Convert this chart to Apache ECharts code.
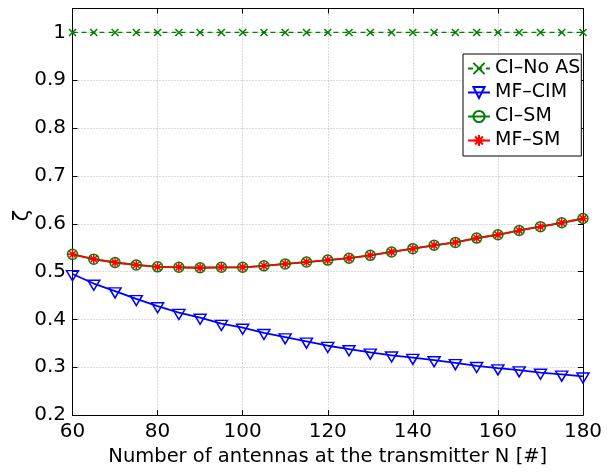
<!DOCTYPE html>
<html>
<head>
<meta charset="utf-8">
<script src="https://cdn.jsdelivr.net/npm/echarts@6/dist/echarts.min.js"></script>
<style>
html,body{margin:0;padding:0;background:#fff;}
#chart{width:609px;height:472px;}
</style>
</head>
<body>
<div id="chart"></div>
<script>
// ---- data ----
const antennas = [60,65,70,75,80,85,90,95,100,105,110,115,120,125,130,135,140,145,150,155,160,165,170,175,180];
const ciNoAS = [1,1,1,1,1,1,1,1,1,1,1,1,1,1,1,1,1,1,1,1,1,1,1,1,1];
const mfCIM = [0.495,0.475,0.459,0.443,0.428,0.414,0.404,0.391,0.383,0.372,0.363,0.354,0.345,0.338,0.331,0.325,0.320,0.315,0.309,0.303,0.298,0.294,0.289,0.285,0.281];
const ciSM = [0.536,0.526,0.519,0.514,0.510,0.509,0.508,0.509,0.509,0.512,0.516,0.520,0.524,0.528,0.534,0.541,0.548,0.555,0.561,0.570,0.577,0.586,0.594,0.602,0.611];
const mfSM = [0.536,0.526,0.519,0.514,0.510,0.509,0.508,0.509,0.509,0.512,0.516,0.520,0.524,0.528,0.534,0.541,0.548,0.555,0.561,0.570,0.577,0.586,0.594,0.602,0.611];
const seriesNames = ['CI\u2013No AS','MF\u2013CIM','CI\u2013SM','MF\u2013SM'];
const xTitle = 'Number of antennas at the transmitter N [#]';
const yTitle = '\u03b6';

const pairs = ys => antennas.map((x,i)=>[x, ys[i]]);
const GREEN = '#008000', BLUE = '#0000ff', RED = '#ff0000';
const FONT = 'DejaVu Sans';

const chart = echarts.init(document.getElementById('chart'), null, {renderer:'canvas'});
const gridLine = {show:true, lineStyle:{color:'#b4b4b4', type:[1,2], width:1}};
const option = {
  animation:false,
  backgroundColor:'#fff',
  grid:{left:72.5, right:26, top:8.5, bottom:49.3, containLabel:false},
  graphic:[{
    type:'text', x:22.5, y:215.6, rotation:Math.PI/2,
    style:{text:yTitle, font:'21px "DejaVu Sans"', fill:'#000', align:'center', verticalAlign:'middle'}
  }],
  xAxis:[{
    type:'value', min:60, max:180, interval:20, position:'bottom',
    name:xTitle, nameLocation:'middle', nameGap:27,
    nameTextStyle:{fontFamily:FONT, fontSize:19.5, color:'#000'},
    axisLine:{show:true, onZero:false, lineStyle:{color:'#000', width:1}},
    axisTick:{show:true, inside:true, length:5, lineStyle:{color:'#000'}},
    axisLabel:{fontFamily:FONT, fontSize:20, color:'#000', margin:7},
    splitLine:gridLine
  },{
    type:'value', min:60, max:180, interval:20, position:'top',
    axisLine:{show:true, onZero:false, lineStyle:{color:'#000', width:1}},
    axisTick:{show:true, inside:true, length:5, lineStyle:{color:'#000'}},
    axisLabel:{show:false}, splitLine:{show:false}
  }],
  yAxis:[{
    type:'value', min:0.2, max:1.05, interval:0.1, position:'left',
    axisLine:{show:true, onZero:false, lineStyle:{color:'#000', width:1}},
    axisTick:{show:true, inside:true, length:5, lineStyle:{color:'#000'}},
    axisLabel:{fontFamily:FONT, fontSize:20, color:'#000', margin:6.5, showMaxLabel:false},
    splitLine:gridLine
  },{
    type:'value', min:0.2, max:1.05, interval:0.1, position:'right',
    axisLine:{show:true, onZero:false, lineStyle:{color:'#000', width:1}},
    axisTick:{show:true, inside:true, length:5, lineStyle:{color:'#000'}},
    axisLabel:{show:false}, splitLine:{show:false}
  }],
  legend:{
    orient:'vertical', left:463, top:54,
    padding:[5,1,6,4], itemGap:5, itemWidth:22, itemHeight:14,
    backgroundColor:'#fff', borderColor:'#000', borderWidth:1,
    textStyle:{fontFamily:FONT, fontSize:19, color:'#000'},
    data:seriesNames
  },
  series:[
    {
      name:seriesNames[0], type:'line', data:pairs(ciNoAS),
      symbol:'path://M0,0L10,10M10,0L0,10', symbolSize:7,
      itemStyle:{color:'transparent', borderColor:GREEN, borderWidth:1.5},
      lineStyle:{color:GREEN, width:1.3, type:[5,4]},
      emphasis:{disabled:true}
    },
    {
      name:seriesNames[1], type:'line', data:pairs(mfCIM),
      symbol:'triangle', symbolRotate:180, symbolSize:[12,10], symbolOffset:[0,1.7],
      itemStyle:{color:'transparent', borderColor:BLUE, borderWidth:1.5},
      lineStyle:{color:BLUE, width:1.8},
      emphasis:{disabled:true}
    },
    {
      name:seriesNames[2], type:'line', data:pairs(ciSM),
      symbol:'circle', symbolSize:10,
      itemStyle:{color:'transparent', borderColor:GREEN, borderWidth:1.5},
      lineStyle:{color:GREEN, width:1.8},
      emphasis:{disabled:true}
    },
    {
      name:seriesNames[3], type:'line', data:pairs(mfSM),
      symbol:'path://M5,0L5,10M0,5L10,5M1.5,1.5L8.5,8.5M8.5,1.5L1.5,8.5', symbolSize:9,
      itemStyle:{color:'transparent', borderColor:RED, borderWidth:1.5},
      lineStyle:{color:RED, width:1.8},
      emphasis:{disabled:true}
    }
  ]
};
chart.setOption(option);
</script>
</body>
</html>
